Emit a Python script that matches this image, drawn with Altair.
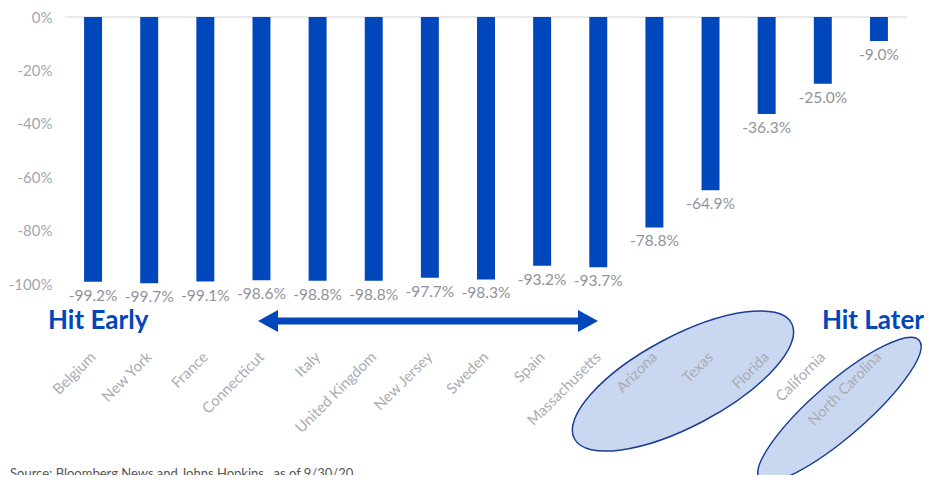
import altair as alt
import pandas as pd

# ---- data ----
places = ["Belgium", "New York", "France", "Connecticut", "Italy", "United Kingdom",
          "New Jersey", "Sweden", "Spain", "Massachusetts", "Arizona", "Texas",
          "Florida", "California", "North Carolina"]
changes = [-99.2, -99.7, -99.1, -98.6, -98.8, -98.8, -97.7, -98.3, -93.2, -93.7,
           -78.8, -64.9, -36.3, -25.0, -9.0]
y_ticks = [0, -20, -40, -60, -80, -100]
source_note = "Source: Bloomberg News and Johns Hopkins , as of 9/30/20"

df = pd.DataFrame({"place": places, "change": changes})

BLUE = "#0047bb"
FONT = "Lato"
W, H = 842, 267

x_enc = alt.X("place:N", sort=places,
              scale=alt.Scale(paddingInner=0.68, paddingOuter=0.34),
              axis=alt.Axis(title=None, labelAngle=-45, labelAlign="right",
                            labelBaseline="middle", labelPadding=70, ticks=False,
                            domain=False, labelColor="#a9adb4", labelFontSize=15,
                            labelFont=FONT, labelOverlap=False, zindex=1))
y_enc = alt.Y("change:Q", scale=alt.Scale(domain=[-100, 0], nice=False),
              axis=alt.Axis(title=None, values=y_ticks, labelExpr="datum.value + '%'",
                            grid=False, ticks=False, domain=False, labelPadding=13,
                            labelColor="#a3a7ae", labelFontSize=15, labelFont=FONT))

base = alt.Chart(df)

zero_rule = base.mark_rule(color="#e8e8e8", strokeWidth=1.5).encode(
    y=alt.datum(0), x=alt.value(0), x2=alt.value(W))

bars = base.mark_bar(color=BLUE).encode(x=x_enc, y=y_enc, y2=alt.datum(0))

labels = base.transform_calculate(
    label="'-' + format(abs(datum.change), '.1f') + '%'"
).mark_text(baseline="top", dy=7, fontSize=15.5, font=FONT, color="#8f939b").encode(
    x=alt.X("place:N", sort=places), y="change:Q", text="label:N")

ann = alt.Chart(pd.DataFrame({"k": [0]}))

ellipse1 = ann.mark_point(
    shape="M -1 0 A 1 0.366 0 1 0 1 0 A 1 0.366 0 1 0 -1 0 Z",
    filled=True, fill="#c9d7f0", stroke="#1b3e93", strokeWidth=1.5,
    opacity=1, fillOpacity=1, strokeOpacity=1, angle=332, size=60516
).encode(x=alt.value(618), y=alt.value(364))

ellipse2 = ann.mark_point(
    shape="M -1 0 A 1 0.255 0 1 0 1 0 A 1 0.255 0 1 0 -1 0 Z",
    filled=True, fill="#c9d7f0", stroke="#1b3e93", strokeWidth=1.5,
    opacity=1, fillOpacity=1, strokeOpacity=1, angle=319, size=44521
).encode(x=alt.value(774.5), y=alt.value(392.5))

shaft = ann.mark_rule(color=BLUE, strokeWidth=7).encode(
    x=alt.value(208), x2=alt.value(518), y=alt.value(304))
head_l = ann.mark_point(shape="M -1 0 L 1 -1.1 L 1 1.1 Z", filled=True, color=BLUE,
                        opacity=1, size=400).encode(x=alt.value(203), y=alt.value(304))
head_r = ann.mark_point(shape="M 1 0 L -1 -1.1 L -1 1.1 Z", filled=True, color=BLUE,
                        opacity=1, size=400).encode(x=alt.value(523), y=alt.value(304))

hit_early = ann.mark_text(text="Hit Early", align="left", baseline="middle",
                          fontSize=26, fontWeight="bold", font=FONT, color=BLUE
                          ).encode(x=alt.value(-17), y=alt.value(304))
hit_later = ann.mark_text(text="Hit Later", align="right", baseline="middle",
                          fontSize=26, fontWeight="bold", font=FONT, color=BLUE
                          ).encode(x=alt.value(859), y=alt.value(304))
source = ann.mark_text(text=source_note, align="left", baseline="top",
                       fontSize=13, font=FONT, color="#555555"
                       ).encode(x=alt.value(-55), y=alt.value(451))

chart = alt.layer(
    zero_rule, bars, labels, ellipse1, ellipse2, shaft, head_l, head_r,
    hit_early, hit_later, source
).properties(
    width=W, height=H,
    autosize=alt.AutoSizeParams(type="none"),
    padding={"left": 57, "top": 9, "right": 18, "bottom": 191},
    background="white",
).configure_view(stroke=None)

chart.save("out.html", embed_options={"renderer": "svg", "actions": False})
